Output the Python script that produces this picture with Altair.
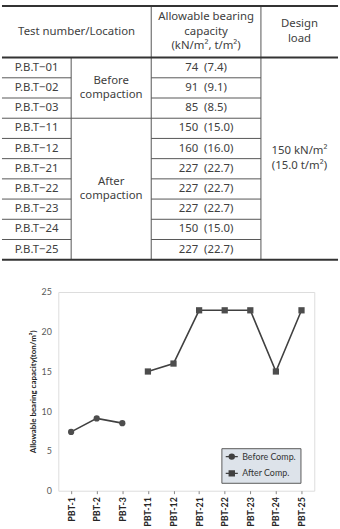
import altair as alt
import pandas as pd

# ---------------- data ----------------
test_ids = ["P.B.T−01", "P.B.T−02", "P.B.T−03", "P.B.T−11", "P.B.T−12",
            "P.B.T−21", "P.B.T−22", "P.B.T−23", "P.B.T−24", "P.B.T−25"]
capacity_kn = [74, 91, 85, 150, 160, 227, 227, 227, 150, 227]
capacity_t = [7.4, 9.1, 8.5, 15.0, 16.0, 22.7, 22.7, 22.7, 15.0, 22.7]
stage = ["Before", "Before", "Before", "After", "After",
         "After", "After", "After", "After", "After"]
stage_text = {"Before": "Before\ncompaction", "After": "After\ncompaction"}
series_names = {"Before": "Before Comp.", "After": "After Comp."}
design_load = "150 kN/m²\n(15.0 t/m²)"
header_texts = ["Test number/Location",
                "Allowable bearing\ncapacity\n(kN/m², t/m²)",
                "Design\nload"]
chart_cats = ["PBT-1", "PBT-2", "PBT-3", "PBT-11", "PBT-12",
              "PBT-21", "PBT-22", "PBT-23", "PBT-24", "PBT-25"]
y_title = "Allowable bearing capacity(ton/m²)"

# ---------------- table layout ----------------
col_edges = [0, 70, 151, 262, 340]   # column borders (page px)
HEADER = 2.55                        # header height in row units
N = len(test_ids)
TOTAL = HEADER + N
ROW_PX = 20.45
LINE_PX = 14.8


def mid(a, b):
    return (a + b) / 2


blocks = []
for i in range(N):
    blocks.append((mid(col_edges[0], col_edges[1]), HEADER + i + 0.5, test_ids[i]))
    blocks.append((mid(col_edges[2], col_edges[3]), HEADER + i + 0.5,
                   f"{capacity_kn[i]}\u2002({capacity_t[i]:.1f})"))
runs = []
start = 0
for i in range(1, N + 1):
    if i == N or stage[i] != stage[start]:
        runs.append((start, i, stage[start]))
        start = i
for s, e, g in runs:
    blocks.append((mid(col_edges[1], col_edges[2]), HEADER + (s + e) / 2, stage_text[g]))
blocks.append((mid(col_edges[3], col_edges[4]), HEADER + N / 2, design_load))
blocks.append((mid(col_edges[0], col_edges[2]), HEADER / 2, header_texts[0]))
blocks.append((mid(col_edges[2], col_edges[3]), HEADER / 2, header_texts[1]))
blocks.append((mid(col_edges[3], col_edges[4]), HEADER / 2, header_texts[2]))

cells = []
for bx, by, txt in blocks:
    lines = txt.split("\n")
    n = len(lines)
    for k, ln in enumerate(lines):
        cells.append(dict(x=bx, y=by + (k - (n - 1) / 2) * LINE_PX / ROW_PX, text=ln))
cells_df = pd.DataFrame(cells)

thick = [dict(x=col_edges[0], x2=col_edges[-1], y=yy, y2=yy) for yy in (0, HEADER, TOTAL)]
thin = []
boundaries = {e for s, e, g in runs if e < N}
for i in range(1, N):
    yy = HEADER + i
    thin.append(dict(x=col_edges[0], x2=col_edges[1], y=yy, y2=yy))
    thin.append(dict(x=col_edges[2], x2=col_edges[3], y=yy, y2=yy))
    if i in boundaries:
        thin.append(dict(x=col_edges[1], x2=col_edges[2], y=yy, y2=yy))
thin.append(dict(x=col_edges[1], x2=col_edges[1], y=HEADER, y2=TOTAL))
thin.append(dict(x=col_edges[2], x2=col_edges[2], y=0, y2=TOTAL))
thin.append(dict(x=col_edges[3], x2=col_edges[3], y=0, y2=TOTAL))
thick_df = pd.DataFrame(thick)
thin_df = pd.DataFrame(thin)

PLOT_LEFT = 57
PLOT_W = 259
PLOT_H = 201

tx = alt.Scale(domain=[PLOT_LEFT, PLOT_LEFT + PLOT_W], nice=False, zero=False)
ty = alt.Scale(domain=[0, TOTAL], reverse=True, nice=False, zero=False)

text_layer = alt.Chart(cells_df).mark_text(
    baseline="middle", align="center",
    font="Noto Sans", fontSize=11.5, color="#404040"
).encode(
    x=alt.X("x:Q", scale=tx, axis=None),
    y=alt.Y("y:Q", scale=ty, axis=None),
    text="text:N",
)
thin_layer = alt.Chart(thin_df).mark_rule(color="#555555", strokeWidth=1).encode(
    x=alt.X("x:Q", scale=tx, axis=None), x2="x2:Q",
    y=alt.Y("y:Q", scale=ty, axis=None), y2="y2:Q",
)
thick_layer = alt.Chart(thick_df).mark_rule(color="#333333", strokeWidth=2).encode(
    x=alt.X("x:Q", scale=tx, axis=None), x2="x2:Q",
    y=alt.Y("y:Q", scale=ty, axis=None), y2="y2:Q",
)
table = alt.layer(thin_layer, thick_layer, text_layer).properties(
    width=PLOT_W, height=TOTAL * ROW_PX,
    view=alt.ViewBackground(stroke="transparent"),
)

# ---------------- line chart ----------------
line_df = pd.DataFrame({
    "cat": chart_cats,
    "val": capacity_t,
    "series": [series_names[s] for s in stage],
})
series_domain = [series_names["Before"], series_names["After"]]

xenc = alt.X("cat:N", sort=chart_cats, scale=alt.Scale(type="point", padding=0.5),
             axis=alt.Axis(title=None, labelAngle=270, labelFont="Lato", labelFontWeight="bold",
                           labelFontSize=9, labelColor="#262626", domain=False,
                           tickSize=3, tickColor="#888888", labelPadding=3))
yenc = alt.Y("val:Q", scale=alt.Scale(domain=[0, 25], nice=False),
             axis=alt.Axis(title=y_title, values=[0, 5, 10, 15, 20, 25], grid=False,
                           ticks=False, domain=False, labelFont="Lato", labelFontSize=9,
                           labelColor="#595959", labelPadding=7,
                           titleFont="Lato", titleFontSize=8, titleFontWeight="bold",
                           titleColor="#222222", titleX=-25, titleY=PLOT_H / 2,
                           titleAlign="center", titleBaseline="middle"))

lines = alt.Chart(line_df).mark_line(color="#404040", strokeWidth=1.6).encode(
    x=xenc, y=yenc, detail="series:N")
points = alt.Chart(line_df).mark_point(filled=True, opacity=1, color="#4d4d4d", size=40).encode(
    x=xenc, y=yenc,
    shape=alt.Shape("series:N", scale=alt.Scale(domain=series_domain, range=["circle", "square"]),
                    legend=None))


def ring(r):
    return f"M{-r},0A{r},{r} 0 1,0 {r},0A{r},{r} 0 1,0 {-r},0Z"


def box(r):
    return f"M{-r},{-r}L{r},{-r}L{r},{r}L{-r},{r}Z"


circ_path = "M-2.4,0L2.4,0" + ring(1) + ring(0.55) + ring(0.15)
sq_path = "M-2.4,0L2.4,0" + box(1) + box(0.55) + box(0.15)
legend_layer = alt.Chart(line_df).mark_point(filled=False, color="#404040",
                                             opacity=0, strokeWidth=1.4).encode(
    x=xenc, y=yenc,
    shape=alt.Shape("series:N", scale=alt.Scale(domain=series_domain, range=[circ_path, sq_path]),
                    legend=alt.Legend(title=None, orient="none", legendX=165, legendY=158,
                                      fillColor="#dde3ea", strokeColor="#595959", padding=4,
                                      labelFont="Lato", labelFontSize=9, labelColor="#333333",
                                      labelFontWeight="normal",
                                      symbolSize=26, symbolStrokeColor="#404040",
                                      symbolStrokeWidth=1.4,
                                      symbolOpacity=1, symbolOffset=2, labelOffset=6,
                                      rowPadding=6)))

plot = alt.layer(lines, points, legend_layer).resolve_scale(shape="independent").properties(
    width=PLOT_W, height=PLOT_H)

chart = alt.vconcat(table, plot, spacing=291 - 2 - TOTAL * ROW_PX, bounds="flush").properties(
    padding={"top": 1, "left": 0, "right": 0, "bottom": 0}
).configure_view(stroke="#666666", strokeWidth=1.2).configure(font="Lato")

chart.save("out.html", embed_options={"renderer": "svg", "actions": False})
